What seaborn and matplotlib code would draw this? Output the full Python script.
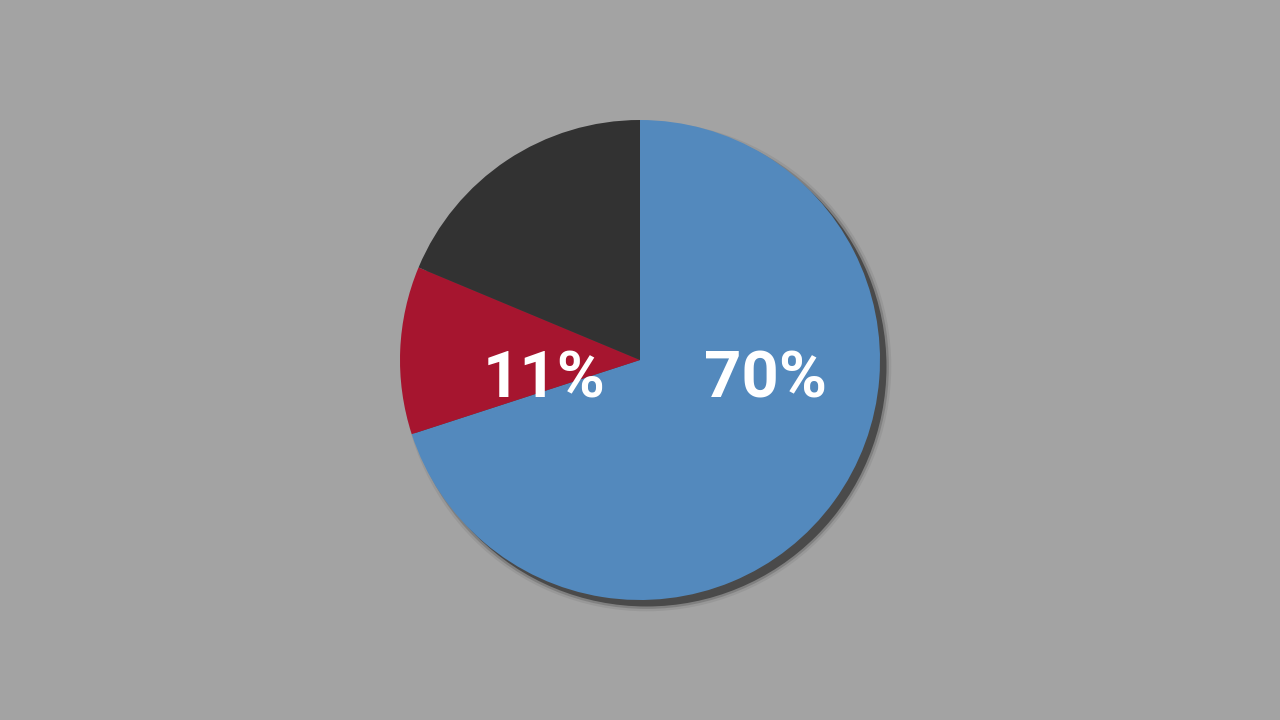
import matplotlib
matplotlib.use("Agg")
import matplotlib.pyplot as plt
import seaborn as sns
from matplotlib.patches import Circle

categories = ["Blue", "Red", "Dark"]
values = [70.0, 11.3, 18.7]
labels = ["70%", "11%", ""]
colors = ["#5389bd", "#a6152f", "#323232"]

sns.set_theme(style="white")
plt.rcParams["font.family"] = ["Roboto", "DejaVu Sans"]
palette = sns.color_palette(colors)

bg = "#a3a3a3"
fig = plt.figure(figsize=(12.8, 7.2), dpi=100, facecolor=bg)
ax = fig.add_axes([0, 0, 1, 1])
ax.set_facecolor(bg)

# soft shadow
off = 0.027
for r, a in [(1.02, 0.12), (1.01, 0.3), (1.0, 1.0)]:
    ax.add_patch(Circle((off, -off), r, color="#4a4a4a", alpha=a, lw=0, zorder=0))

ax.pie(values, colors=palette, startangle=90, counterclock=False, radius=1.0,
       wedgeprops=dict(linewidth=0), center=(0, 0))

ax.text(-0.40, -0.085, labels[1], color="white", fontsize=47, fontweight="bold",
        ha="center", va="center", zorder=5)
ax.text(0.525, -0.085, labels[0], color="white", fontsize=47, fontweight="bold",
        ha="center", va="center", zorder=5)

ax.set_xlim(-1280 / 480, 1280 / 480)
ax.set_ylim(-1.5, 1.5)
ax.set_aspect("equal")
ax.axis("off")
fig.savefig("out.png", dpi=100, facecolor=bg)
